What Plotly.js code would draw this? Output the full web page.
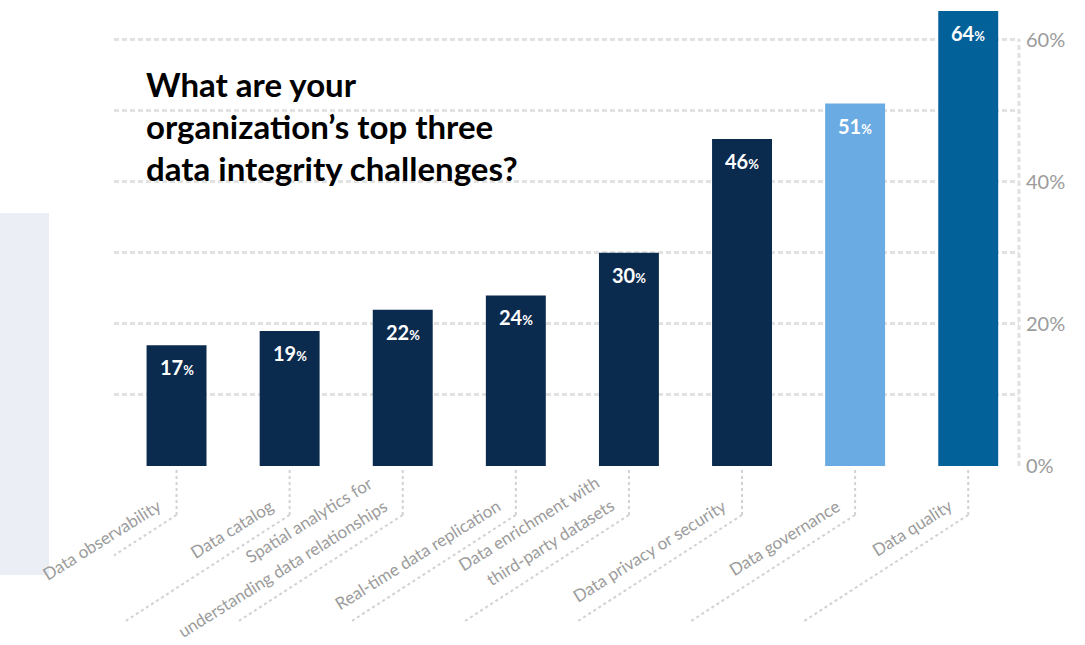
<!DOCTYPE html>
<html>
<head>
<meta charset="utf-8">
<script src="https://cdn.plot.ly/plotly-3.0.1.min.js"></script>
<style>html,body{margin:0;padding:0;background:#fff;}#chart{width:1085px;height:645px;}</style>
</head>
<body>
<div id="chart"></div>
<script>
const categories = [
  "Data observability",
  "Data catalog",
  "Spatial analytics for<br>understanding data relationships",
  "Real-time data replication",
  "Data enrichment with<br>third-party datasets",
  "Data privacy or security",
  "Data governance",
  "Data quality"
];
const values = [17, 19, 22, 24, 30, 46, 51, 64];
const barColors = ["#0a2a4e", "#0a2a4e", "#0a2a4e", "#0a2a4e", "#0a2a4e", "#0a2a4e", "#6aabe3", "#03619a"];
const yTickVals = [0, 10, 20, 30, 40, 50, 60];
const yTickText = ["0%", "", "20%", "", "40%", "", "60%"];
const titleLines = ["What are your", "organization\u2019s top three", "data integrity challenges?"];

const FONT = "Lato, 'Noto Sans', sans-serif";
const idx = categories.map((_, i) => i);
const PLOT_BOTTOM = 466, PLOT_H = 462;
const py = p => (PLOT_BOTTOM - p) / PLOT_H;
const ANG = 32 * Math.PI / 180;
const LINE_GAP = 27;

const trace = {
  type: "bar",
  x: idx,
  y: values,
  marker: { color: barColors, line: { width: 0 } },
  hoverinfo: "skip"
};

const annotations = [];
values.forEach((v, i) => {
  annotations.push({
    x: i, y: v, xref: "x", yref: "y",
    text: "<b>" + v + "<span style='font-size:13px'>%</span></b>",
    showarrow: false, yanchor: "middle", yshift: -22,
    font: { family: FONT, size: 20, color: "#ffffff" }
  });
});
categories.forEach((c, i) => {
  const lines = c.split("<br>");
  lines.forEach((ln, k) => {
    const off = (k - (lines.length - 1)) * LINE_GAP;
    annotations.push({
      x: i, y: py(492), xref: "x", yref: "paper",
      xanchor: "right", yanchor: "top",
      xshift: -9 + off * Math.sin(ANG), yshift: -off * Math.cos(ANG),
      textangle: -32,
      text: ln, showarrow: false,
      font: { family: FONT, size: 17, color: "#9b9b9b" }
    });
  });
});
const titleY = [84, 126, 168];
titleLines.forEach((t, k) => {
  annotations.push({
    x: 0.0333, y: py(titleY[k]), xref: "paper", yref: "paper",
    xanchor: "left", yanchor: "middle",
    text: "<b>" + t + "</b>", showarrow: false,
    font: { family: FONT, size: 33, color: "#000000" }
  });
});

const shapes = [
  { type: "rect", xref: "paper", yref: "paper", x0: -0.126, x1: -0.0718, y0: py(575), y1: py(213),
    fillcolor: "#eceef6", line: { width: 0 }, layer: "below" },
  { type: "line", xref: "paper", yref: "paper", x0: 1, x1: 1, y0: 0, y1: py(39),
    line: { color: "#e2e2e2", width: 3, dash: "5px,3px" }, layer: "below" }
];
idx.forEach(i => {
  shapes.push({ type: "line", xref: "x", xsizemode: "pixel", xanchor: i, x0: 0, x1: 0,
    yref: "paper", y0: py(470), y1: py(515), line: { color: "#d2d2d2", width: 2, dash: "dot" } });
  shapes.push({ type: "line", xref: "x", xsizemode: "pixel", xanchor: i, x0: 0, x1: -164,
    yref: "paper", y0: py(515), y1: py(621), line: { color: "#d2d2d2", width: 2, dash: "dot" } });
});

const layout = {
  width: 1085, height: 645,
  margin: { l: 114, r: 66, t: 4, b: 179 },
  paper_bgcolor: "#ffffff", plot_bgcolor: "#ffffff",
  showlegend: false, hovermode: false,
  bargap: 0.47,
  font: { family: FONT },
  xaxis: {
    range: [-0.553, 7.449],
    showticklabels: false, ticks: "", showgrid: false, zeroline: false, showline: false
  },
  yaxis: {
    side: "right", range: [0, 65],
    tickmode: "array", tickvals: yTickVals, ticktext: yTickText,
    showgrid: true, gridcolor: "#e2e2e2", gridwidth: 3, griddash: "5px,3px",
    zeroline: false, showline: false, ticks: "",
    tickfont: { family: FONT, size: 20, color: "#9b9b9b" },
    ticklabelstandoff: 6
  },
  annotations: annotations,
  shapes: shapes
};

Plotly.newPlot("chart", [trace], layout, { displayModeBar: false, staticPlot: true });
</script>
</body>
</html>
